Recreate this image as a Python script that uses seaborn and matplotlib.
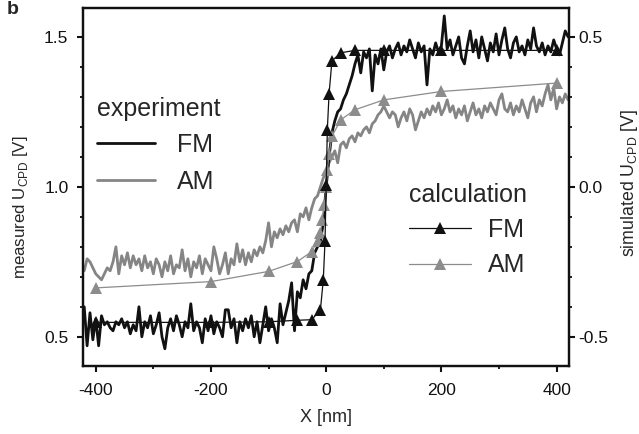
import numpy as np
import pandas as pd
import matplotlib
matplotlib.use("Agg")
import matplotlib.pyplot as plt
from matplotlib.ticker import MultipleLocator, FixedLocator
import seaborn as sns

# ---------------- data ----------------
x_exp = list(range(-420, 421, 5))

exp_fm = [
    0.60, 0.47, 0.58, 0.49, 0.56, 0.47, 0.57, 0.54, 0.55, 0.53,
    0.52, 0.55, 0.54, 0.56, 0.53, 0.55, 0.51, 0.54, 0.52, 0.60,
    0.50, 0.55, 0.53, 0.57, 0.51, 0.54, 0.58, 0.50, 0.46, 0.53,
    0.56, 0.52, 0.57, 0.54, 0.50, 0.55, 0.53, 0.61, 0.52, 0.55,
    0.53, 0.48, 0.56, 0.52, 0.57, 0.51, 0.55, 0.53, 0.50, 0.59,
    0.59, 0.53, 0.56, 0.48, 0.55, 0.52, 0.56, 0.53, 0.57, 0.50,
    0.55, 0.48, 0.54, 0.60, 0.52, 0.56, 0.53, 0.48, 0.61, 0.54,
    0.58, 0.62, 0.68, 0.52, 0.65, 0.63, 0.69, 0.66, 0.71, 0.72,
    0.78, 0.80, 0.82, 0.88, 1.00, 1.10, 1.18, 1.22, 1.25, 1.26,
    1.29, 1.31, 1.34, 1.37, 1.41, 1.44, 1.38, 1.45, 1.43, 1.46,
    1.32, 1.44, 1.41, 1.46, 1.39, 1.45, 1.47, 1.43, 1.46, 1.48,
    1.44, 1.47, 1.45, 1.49, 1.46, 1.43, 1.48, 1.45, 1.47, 1.34,
    1.46, 1.44, 1.48, 1.45, 1.47, 1.57, 1.46, 1.49, 1.44, 1.47,
    1.50, 1.43, 1.41, 1.47, 1.52, 1.45, 1.49, 1.43, 1.50, 1.46,
    1.42, 1.48, 1.45, 1.51, 1.44, 1.49, 1.53, 1.46, 1.43, 1.48,
    1.50, 1.45, 1.47, 1.44, 1.49, 1.46, 1.53, 1.47, 1.45, 1.48,
    1.44, 1.47, 1.45, 1.49, 1.46, 1.44, 1.48, 1.52, 1.50,
]

exp_am = [
    0.72, 0.76, 0.75, 0.73, 0.71, 0.70, 0.69, 0.71, 0.73, 0.72,
    0.75, 0.80, 0.71, 0.77, 0.74, 0.78, 0.73, 0.77, 0.74, 0.76,
    0.72, 0.77, 0.73, 0.75, 0.71, 0.76, 0.74, 0.70, 0.75, 0.72,
    0.77, 0.71, 0.74, 0.73, 0.79, 0.72, 0.76, 0.70, 0.75, 0.73,
    0.77, 0.71, 0.76, 0.74, 0.72, 0.80, 0.76, 0.71, 0.74, 0.78,
    0.71, 0.76, 0.74, 0.81, 0.75, 0.79, 0.74, 0.78, 0.75, 0.79,
    0.77, 0.80, 0.78, 0.82, 0.88, 0.80, 0.85, 0.83, 0.86, 0.84,
    0.87, 0.85, 0.88, 0.89, 0.85, 0.91, 0.90, 0.93, 0.89, 0.93,
    0.96, 0.97, 1.00, 1.03, 1.05, 1.08, 1.10, 1.12, 1.08, 1.14,
    1.15, 1.13, 1.16, 1.17, 1.15, 1.18, 1.17, 1.19, 1.20, 1.18,
    1.21, 1.22, 1.24, 1.25, 1.27, 1.25, 1.23, 1.25, 1.24, 1.20,
    1.23, 1.25, 1.22, 1.26, 1.24, 1.19, 1.22, 1.25, 1.23, 1.26,
    1.24, 1.27, 1.25, 1.28, 1.24, 1.26, 1.29, 1.25, 1.27, 1.23,
    1.26, 1.24, 1.27, 1.22, 1.25, 1.28, 1.24, 1.26, 1.23, 1.27,
    1.25, 1.28, 1.26, 1.24, 1.29, 1.31, 1.26, 1.25, 1.28, 1.24,
    1.27, 1.25, 1.29, 1.26, 1.23, 1.28, 1.30, 1.25, 1.29, 1.27,
    1.31, 1.34, 1.29, 1.33, 1.26, 1.30, 1.28, 1.31, 1.29,
]

x_calc_fm = [-400, -200, -100, -50, -25, -10, -5, -2, 0, 2, 5, 10, 25, 50, 100, 200, 400]
calc_fm = [0.548, 0.548, 0.550, 0.555, 0.557, 0.59, 0.69, 0.82, 1.005, 1.19, 1.31, 1.42,
           1.447, 1.455, 1.455, 1.455, 1.455]

x_calc_am = [-400, -200, -100, -50, -25, -15, -10, -7, -3, 0, 2, 5, 10, 25, 50, 100, 200, 400]
calc_am = [0.663, 0.684, 0.718, 0.751, 0.784, 0.82, 0.845, 0.89, 0.94, 1.0, 1.056, 1.11,
           1.168, 1.223, 1.257, 1.29, 1.318, 1.346]

x_ticks = [-400, -200, 0, 200, 400]
y_left_ticks = [0.5, 1.0, 1.5]
y_right_ticks = [-0.5, 0.0, 0.5]

# ---------------- style ----------------
sns.set_theme(style="ticks")
plt.rcParams["font.family"] = ["Liberation Sans", "DejaVu Sans"]
plt.rcParams["axes.unicode_minus"] = False
plt.rcParams["mathtext.fontset"] = "custom"
plt.rcParams["mathtext.rm"] = "Liberation Sans"

BLACK = "#111111"
GRAY = "#858585"
GRAY_CALC = "#8c8c8c"

fig = plt.figure(figsize=(6.39, 4.34), dpi=100)
ax = fig.add_axes([0.130, 0.157, 0.760, 0.825])

df_fm = pd.DataFrame({"x": x_exp, "y": exp_fm})
df_am = pd.DataFrame({"x": x_exp, "y": exp_am})
df_cfm = pd.DataFrame({"x": x_calc_fm, "y": calc_fm})
df_cam = pd.DataFrame({"x": x_calc_am, "y": calc_am})

sns.lineplot(data=df_am, x="x", y="y", ax=ax, color=GRAY, lw=2.0, estimator=None)
h_am = ax.lines[-1]
sns.lineplot(data=df_fm, x="x", y="y", ax=ax, color=BLACK, lw=2.0, estimator=None)
h_fm = ax.lines[-1]
sns.lineplot(data=df_cam, x="x", y="y", ax=ax, color=GRAY_CALC, lw=0.9, estimator=None,
             marker="^", markersize=8.5, markeredgewidth=0, markerfacecolor=GRAY_CALC)
h_cam = ax.lines[-1]
sns.lineplot(data=df_cfm, x="x", y="y", ax=ax, color=BLACK, lw=0.9, estimator=None,
             marker="^", markersize=8.5, markeredgewidth=0, markerfacecolor=BLACK)
h_cfm = ax.lines[-1]

ax.set_xlim(-422, 421)
ax.set_ylim(0.403, 1.597)
ax.xaxis.set_major_locator(FixedLocator(x_ticks))
ax.xaxis.set_minor_locator(MultipleLocator(100))
ax.yaxis.set_major_locator(FixedLocator(y_left_ticks))
ax.yaxis.set_minor_locator(MultipleLocator(0.1))
ax.set_xticklabels([str(v) for v in x_ticks])
ax.set_yticklabels([f"{v:.1f}" for v in y_left_ticks])

ax2 = ax.twinx()
ax2.set_ylim(-0.597, 0.597)
ax2.yaxis.set_major_locator(FixedLocator(y_right_ticks))
ax2.yaxis.set_minor_locator(MultipleLocator(0.1))
ax2.set_yticklabels([f"{v:.1f}" for v in y_right_ticks])

for a in (ax, ax2):
    for s in a.spines.values():
        s.set_linewidth(1.6)
        s.set_color("#111111")
        s.set_visible(True)
    a.tick_params(which="major", direction="out", length=4.5, width=1.5, labelsize=12.5,
                  colors="#111111")
    a.tick_params(which="minor", direction="out", length=2.5, width=1.3, colors="#111111")
ax.tick_params(axis="x", which="major", pad=8)
ax.tick_params(axis="y", which="major", pad=6)
ax2.tick_params(axis="y", which="major", pad=2.5)

ax.set_xlabel("X [nm]", fontsize=13)
ax.xaxis.set_label_coords(0.5, -0.12)
ax.set_ylabel(r"measured U$_{\mathregular{CPD}}$ [V]", fontsize=12.2)
ax.yaxis.set_label_coords(-0.109, 0.444)
ax2.set_ylabel(r"simulated U$_{\mathregular{CPD}}$ [V]", fontsize=12.8)
ax2.yaxis.set_label_coords(1.104, 0.51)

fig.text(0.010, 0.998, "b", fontsize=14, fontweight="bold", va="top", ha="left")

leg1 = ax.legend([h_fm, h_am], ["FM", "AM"], title="experiment", loc="upper left",
                 bbox_to_anchor=(0.029, 0.752), frameon=False, fontsize=18,
                 title_fontsize=18, handlelength=2.3, handletextpad=0.9,
                 labelspacing=0.5, borderpad=0, borderaxespad=0, alignment="left")
ax.add_artist(leg1)
leg2 = ax.legend([h_cfm, h_cam], ["FM", "AM"], title="calculation", loc="upper left",
                 bbox_to_anchor=(0.671, 0.511), frameon=False, fontsize=18,
                 title_fontsize=18, handlelength=2.5, handletextpad=0.65,
                 labelspacing=0.45, borderpad=0, borderaxespad=0, alignment="left")

fig.savefig("out.png", dpi=100)
